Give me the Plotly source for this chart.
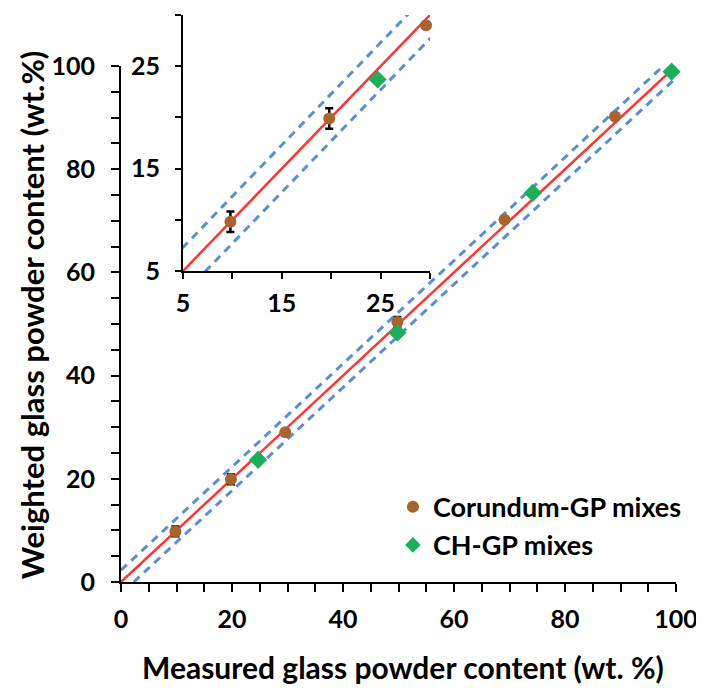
import plotly.graph_objects as go

# ---- data ----
corundum_x = [9.8, 19.8, 29.6, 49.8, 69.1, 89.0]
corundum_y = [9.8, 19.9, 29.0, 50.4, 70.2, 90.2]
corundum_err = [1.0, 1.0, 0.0, 1.0, 0.0, 0.0]
ch_x = [24.7, 49.8, 74.2, 99.2]
ch_y = [23.7, 48.3, 75.4, 98.9]
line_x = [0, 100]
band = 2.3
main_ticks = [0, 20, 40, 60, 80, 100]
inset_ticks = [5, 15, 25]
inset_range = [5, 30]

BROWN = "#A8642F"
GREEN = "#1DAE5C"
RED = "#FF3535"
BLUE = "#5B8FCF"
FONT = "Lato"

fig = go.Figure()

def add_lines(xa, ya):
    fig.add_trace(go.Scatter(x=line_x, y=line_x, mode="lines",
                             line=dict(color=RED, width=2.5), showlegend=False,
                             xaxis=xa, yaxis=ya, hoverinfo="skip"))
    fig.add_trace(go.Scatter(x=[line_x[0], line_x[1] - band], y=[line_x[0] + band, line_x[1]],
                             mode="lines", line=dict(color=BLUE, width=3, dash="8px,6px"),
                             showlegend=False, xaxis=xa, yaxis=ya, hoverinfo="skip"))
    fig.add_trace(go.Scatter(x=[line_x[0] + band, line_x[1]], y=[line_x[0], line_x[1] - band],
                             mode="lines", line=dict(color=BLUE, width=3, dash="8px,6px"),
                             showlegend=False, xaxis=xa, yaxis=ya, hoverinfo="skip"))

# main
add_lines("x", "y")
fig.add_trace(go.Scatter(x=corundum_x, y=corundum_y, mode="markers", name="Corundum-GP mixes",
                         marker=dict(color=BROWN, size=12, symbol="circle"),
                         error_y=dict(type="data", array=corundum_err, color="black", thickness=2, width=4),
                         cliponaxis=False, xaxis="x", yaxis="y"))
fig.add_trace(go.Scatter(x=ch_x, y=ch_y, mode="markers", name="CH-GP mixes",
                         marker=dict(color=GREEN, size=14, symbol="diamond"),
                         cliponaxis=False, xaxis="x", yaxis="y"))

# inset
add_lines("x2", "y2")
def within(xs, ys, es=None):
    idx = [i for i in range(len(xs)) if inset_range[0] <= xs[i] <= inset_range[1] and inset_range[0] <= ys[i] <= inset_range[1]]
    return [xs[i] for i in idx], [ys[i] for i in idx], ([es[i] for i in idx] if es else None)

cx, cy, ce = within(corundum_x, corundum_y, corundum_err)
gx, gy, _ = within(ch_x, ch_y)
fig.add_trace(go.Scatter(x=cx, y=cy, mode="markers", showlegend=False,
                         marker=dict(color=BROWN, size=12, symbol="circle"),
                         error_y=dict(type="data", array=ce, color="black", thickness=2.5, width=4),
                         cliponaxis=False, xaxis="x2", yaxis="y2"))
fig.add_trace(go.Scatter(x=gx, y=gy, mode="markers", showlegend=False,
                         marker=dict(color=GREEN, size=14, symbol="diamond"),
                         cliponaxis=False, xaxis="x2", yaxis="y2"))

tickfont = dict(family=FONT, size=25, color="black", weight="bold")
axis_common = dict(showline=True, linecolor="black", linewidth=2, showgrid=False, zeroline=False,
                   ticks="outside", tickcolor="black", tickwidth=2, tickfont=tickfont, automargin=False)

fig.update_layout(
    width=696, height=680,
    margin=dict(l=113, r=28, t=7, b=106, autoexpand=False),
    plot_bgcolor="white", paper_bgcolor="white",
    xaxis=dict(domain=[0, 1], range=[0, 100], tickvals=main_ticks, ticklen=8, ticklabelstandoff=6,
               minor=dict(dtick=5, ticks="outside", ticklen=8, tickwidth=2, tickcolor="black"),
               anchor="y", **axis_common),
    yaxis=dict(domain=[0, 516 / 567], range=[0, 100], tickvals=main_ticks, ticklen=8, ticklabelstandoff=11,
               minor=dict(dtick=5, ticks="outside", ticklen=8, tickwidth=2, tickcolor="black"),
               anchor="x", **axis_common),
    xaxis2=dict(domain=[62 / 555, 309 / 555], range=inset_range, tickvals=inset_ticks, ticklen=6, ticklabelstandoff=3,
                minor=dict(dtick=5, ticks="outside", ticklen=6, tickwidth=2, tickcolor="black"),
                anchor="y2", **axis_common),
    yaxis2=dict(domain=[311 / 567, 1], range=inset_range, tickvals=inset_ticks, ticklen=6, ticklabelstandoff=10,
                minor=dict(dtick=5, ticks="outside", ticklen=6, tickwidth=2, tickcolor="black"),
                anchor="x2", **axis_common),
    legend=dict(x=0.49, y=0.175, xanchor="left", yanchor="top", bgcolor="rgba(0,0,0,0)",
                font=dict(family=FONT, size=27, color="black", weight="bold"),
                itemsizing="constant", tracegroupgap=0),
    annotations=[
        dict(text="Measured glass powder content (wt. %)", xref="paper", yref="paper",
             x=0.508, y=-0.150, xanchor="center", yanchor="middle", showarrow=False,
             font=dict(family=FONT, size=30, color="black", weight="bold")),
        dict(text="Weighted glass powder content (wt.%)", xref="paper", yref="paper",
             x=-0.160, y=0.471, xanchor="center", yanchor="middle", showarrow=False, textangle=-90,
             font=dict(family=FONT, size=31, color="black", weight="bold")),
    ],
)

fig.write_html("out.html")
